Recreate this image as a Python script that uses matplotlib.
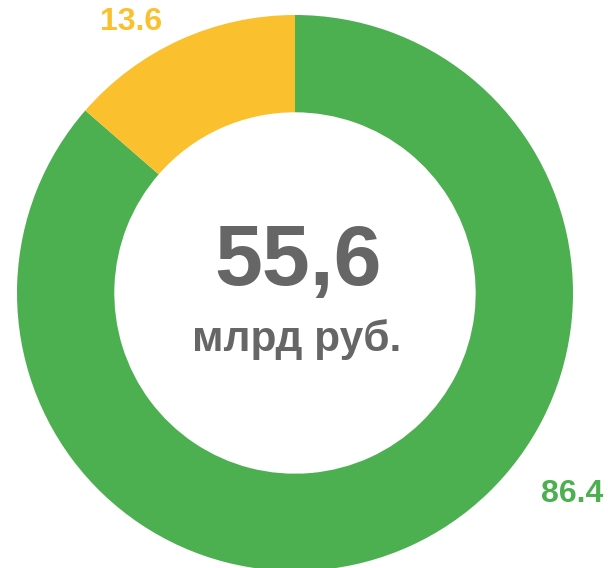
import matplotlib
matplotlib.use("Agg")
import matplotlib.pyplot as plt

# data
shares = [86.4, 13.6]
share_labels = ["86.4", "13.6"]
colors = ["#4CAF50", "#FBC02D"]
total_value = "55,6"
total_unit = "млрд руб."

W, H = 608, 568
fig = plt.figure(figsize=(W / 100, H / 100), dpi=100)
ax = fig.add_axes([0, 0, 1, 1])
plt.rcParams["font.family"] = ["Liberation Sans", "DejaVu Sans"]

cx, cy, r = 295, H - 293, 278
ax.pie(shares, colors=colors, startangle=90, counterclock=False,
       center=(cx, cy), radius=r,
       wedgeprops=dict(width=r * 0.35, linewidth=0))

ax.set_xlim(0, W)
ax.set_ylim(0, H)
ax.set_aspect("equal")
ax.axis("off")

# outside value labels
ax.text(572, H - 494, share_labels[0], color=colors[0], fontsize=23,
        fontweight="bold", ha="center", va="center")
ax.text(131, H - 22, share_labels[1], color=colors[1], fontsize=23,
        fontweight="bold", ha="center", va="center")

# centre text
ax.text(298, H - 263, total_value, color="#666666", fontsize=62,
        fontweight="bold", ha="center", va="center")
ax.text(297, H - 340, total_unit, color="#666666", fontsize=30.5,
        fontweight="bold", ha="center", va="center")

fig.savefig("out.png", dpi=100)
